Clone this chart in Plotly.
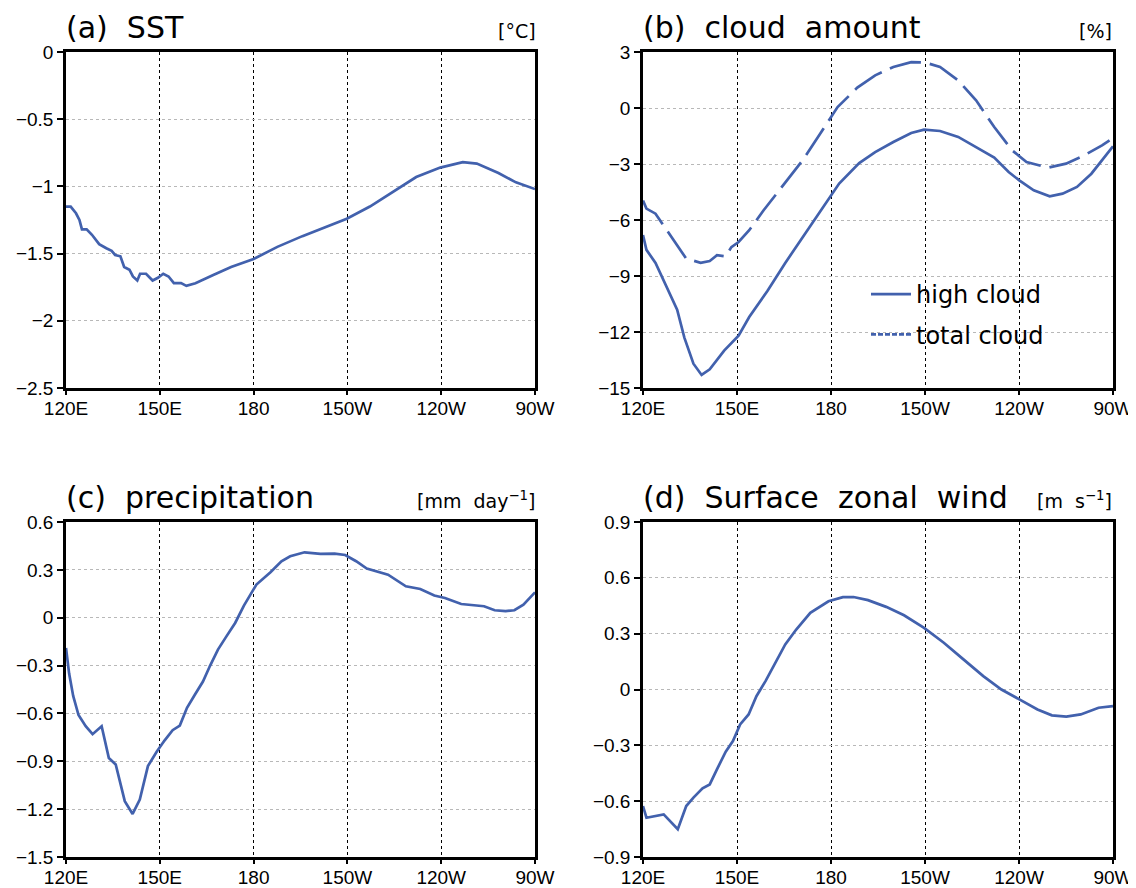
import plotly.graph_objects as go

# ---------------- data (longitude in degrees east, 120E..270E=90W) ----------------
sst_lon = [120, 121.5, 123.2, 124.3, 125.1, 126.6, 128.3, 130.6, 132.9, 134.6, 135.7, 137.4,
           138.6, 140.3, 141.4, 142.8, 143.7, 145.6, 147.7, 149.4, 151.1, 152.8, 154.5, 156.8,
           158.5, 161.4, 167.1, 172.8, 180, 187.6, 195.6, 202.4, 209.8, 217.2, 224.1, 232.0,
           239.7, 246.9, 251.4, 258.3, 263.9, 270]
sst_val = [-1.15, -1.15, -1.20, -1.25, -1.32, -1.32, -1.36, -1.43, -1.46, -1.48, -1.51, -1.52,
           -1.60, -1.62, -1.67, -1.70, -1.65, -1.65, -1.70, -1.68, -1.65, -1.67, -1.72, -1.72,
           -1.74, -1.72, -1.66, -1.60, -1.54, -1.45, -1.37, -1.31, -1.24, -1.15, -1.05, -0.93,
           -0.86, -0.82, -0.83, -0.90, -0.97, -1.02]

high_lon = [120, 121.1, 124.0, 127.5, 130.9, 133.2, 136.1, 138.7, 141.3, 145.9, 150.5, 153.9,
            159.7, 165.4, 171.1, 176.9, 182.6, 189.0, 194.1, 199.9, 205.6, 209.7, 214.8, 220.6,
            226.3, 232.1, 236.7, 240.1, 244.7, 249.8, 253.9, 258.5, 263.1, 267.7, 270]
high_val = [-6.8, -7.6, -8.3, -9.6, -10.8, -12.3, -13.7, -14.3, -14.0, -13.0, -12.2, -11.2,
            -9.8, -8.3, -6.9, -5.5, -4.05, -2.95, -2.36, -1.82, -1.34, -1.16, -1.23, -1.55,
            -2.09, -2.66, -3.43, -3.88, -4.41, -4.73, -4.59, -4.23, -3.52, -2.54, -2.05]

total_lon = [120, 121.1, 124.0, 126.3, 129.8, 133.8, 138.4, 141.3, 143.6, 146.4, 148.2, 150.5,
             153.9, 158.5, 165.4, 171.1, 176.9, 182.1, 188.4, 194.1, 199.9, 205.6, 210.2, 214.8,
             220.6, 226.3, 232.1, 237.8, 242.4, 249.3, 255.0, 260.8, 266.5, 268.9]
total_val = [-4.95, -5.39, -5.66, -6.2, -7.09, -8.07, -8.29, -8.20, -7.89, -7.95, -7.45, -7.18,
             -6.55, -5.48, -3.96, -2.77, -1.29, 0.05, 1.09, 1.75, 2.20, 2.46, 2.43, 2.20,
             1.48, 0.41, -1.02, -2.27, -2.89, -3.20, -2.98, -2.54, -2.0, -1.73]

pr_lon = [120, 121.0, 122.3, 124.0, 126.3, 128.5, 131.4, 133.7, 135.9, 138.8, 141.3, 143.6,
          146.2, 149.0, 151.5, 154.1, 156.4, 158.7, 161.3, 163.8, 166.1, 168.6, 171.2, 174.1,
          176.9, 180.9, 185.4, 188.9, 191.7, 196.3, 201.4, 205.9, 209.3, 212.8, 216.2, 219.0,
          223.0, 228.7, 233.3, 237.8, 241.2, 246.4, 250.9, 253.7, 257.1, 260.6, 263.4, 266.3, 270]
pr_val = [-0.19, -0.35, -0.49, -0.61, -0.68, -0.73, -0.68, -0.88, -0.92, -1.15, -1.23, -1.14,
          -0.93, -0.84, -0.77, -0.705, -0.676, -0.565, -0.48, -0.40, -0.30, -0.20, -0.12, -0.033,
          0.076, 0.208, 0.285, 0.354, 0.385, 0.41, 0.40, 0.402, 0.393, 0.354, 0.308, 0.291,
          0.27, 0.197, 0.18, 0.139, 0.124, 0.086, 0.078, 0.072, 0.047, 0.041, 0.047, 0.082, 0.159]

wind_lon = [120, 121.1, 126.6, 131.1, 133.8, 136.1, 139.0, 141.3, 143.6, 146.4, 148.7, 151.0,
            153.7, 156.2, 159.1, 162.0, 165.4, 168.9, 173.4, 179.2, 183.8, 187.2, 191.8, 197.6,
            203.3, 209.7, 216.0, 221.7, 228.6, 234.4, 240.1, 245.9, 250.5, 255.1, 259.7, 265.4, 270]
wind_val = [-0.626, -0.689, -0.671, -0.751, -0.626, -0.581, -0.531, -0.51, -0.429, -0.334, -0.277,
            -0.188, -0.134, -0.036, 0.045, 0.134, 0.242, 0.322, 0.412, 0.474, 0.496, 0.497, 0.480,
            0.444, 0.399, 0.331, 0.251, 0.170, 0.072, 0.0, -0.053, -0.107, -0.139, -0.146, -0.134,
            -0.098, -0.089]

x_tickvals = [120, 150, 180, 210, 240, 270]
x_ticktext = ["120E", "150E", "180", "150W", "120W", "90W"]

y_ticks_a = [0, -0.5, -1, -1.5, -2, -2.5]
y_ticks_b = [3, 0, -3, -6, -9, -12, -15]
y_ticks_c = [0.6, 0.3, 0, -0.3, -0.6, -0.9, -1.2, -1.5]
y_ticks_d = [0.9, 0.6, 0.3, 0, -0.3, -0.6, -0.9]

titles = ["(a)  SST", "(b)  cloud  amount", "(c)  precipitation", "(d)  Surface  zonal  wind"]
units = ["[°C]", "[%]", "[mm  day<sup>−1</sup>]", "[m  s<sup>−1</sup>]"]

# ---------------- styling ----------------
# the page body has an 8px margin; the figure fills the rest of the 1136x888 window
OFF = 8
W, H = 1136 - OFF, 888 - OFF


def px(xp):
    return (xp - OFF) / W


def py(yp):
    return 1 - (yp - OFF) / H


LINE = "#4261ad"
TICKFONT = dict(family="Liberation Sans, Arial, sans-serif", size=19, color="black")
TITLEFONT = dict(family="DejaVu Sans, sans-serif", size=30, color="black")
UNITFONT = dict(family="DejaVu Sans, sans-serif", size=19, color="black")

xdom_l = [px(66), px(535)]
xdom_r = [px(643), px(1113)]
ydom_t = [py(388), py(52)]
ydom_b = [py(857), py(522)]

fig = go.Figure()

fig.add_trace(go.Scatter(x=sst_lon, y=sst_val, mode="lines", line=dict(color=LINE, width=2.7),
                         xaxis="x", yaxis="y", showlegend=False))
fig.add_trace(go.Scatter(x=high_lon, y=high_val, mode="lines", name="high cloud",
                         line=dict(color=LINE, width=2.7), xaxis="x2", yaxis="y2",
                         legendgroup="g1"))
fig.add_trace(go.Scatter(x=total_lon, y=total_val, mode="lines", name="total cloud",
                         line=dict(color=LINE, width=2.7, dash="32px,9px"), xaxis="x2", yaxis="y2",
                         showlegend=False, legendgroup="g2"))
# legend-only entry showing the short-dash key, as in the reference legend
fig.add_trace(go.Scatter(x=[None], y=[None], mode="lines", name="total cloud",
                         line=dict(color=LINE, width=2.7, dash="5px,2px"), xaxis="x2", yaxis="y2",
                         legendgroup="g2"))
fig.add_trace(go.Scatter(x=pr_lon, y=pr_val, mode="lines", line=dict(color=LINE, width=2.7),
                         xaxis="x3", yaxis="y3", showlegend=False))
fig.add_trace(go.Scatter(x=wind_lon, y=wind_val, mode="lines", line=dict(color=LINE, width=2.7),
                         xaxis="x4", yaxis="y4", showlegend=False))


def xax(dom, anchor):
    return dict(domain=dom, anchor=anchor, range=[120, 270], tickvals=x_tickvals,
                ticktext=x_ticktext, tickfont=TICKFONT, showgrid=True, gridcolor="black",
                griddash="dot", gridwidth=1, showline=True, linecolor="black", linewidth=2.5,
                mirror=True, ticks="outside", ticklen=4, tickwidth=2, tickcolor="black",
                zeroline=False, automargin=False, ticklabelstandoff=-3)


def yax(dom, anchor, rng, tv):
    return dict(domain=dom, anchor=anchor, range=rng, tickvals=tv, tickfont=TICKFONT,
                showgrid=True, gridcolor="#b8b8b8", griddash="dot", gridwidth=1,
                showline=True, linecolor="black", linewidth=2.5, mirror=True,
                ticks="outside", ticklen=6, tickwidth=2, tickcolor="black", zeroline=False,
                automargin=False)


fig.update_layout(
    width=W, height=H,
    margin=dict(l=0, r=0, t=0, b=0),
    paper_bgcolor="white", plot_bgcolor="white",
    xaxis=xax(xdom_l, "y"), yaxis=yax(ydom_t, "x", [-2.5, 0], y_ticks_a),
    xaxis2=xax(xdom_r, "y2"), yaxis2=yax(ydom_t, "x2", [-15, 3], y_ticks_b),
    xaxis3=xax(xdom_l, "y3"), yaxis3=yax(ydom_b, "x3", [-1.5, 0.6], y_ticks_c),
    xaxis4=xax(xdom_r, "y4"), yaxis4=yax(ydom_b, "x4", [-0.9, 0.9], y_ticks_d),
    legend=dict(x=px(866), y=py(272), xanchor="left", yanchor="top",
                bgcolor="rgba(0,0,0,0)", font=dict(family="DejaVu Sans, sans-serif", size=24,
                                                   color="black"),
                traceorder="grouped", tracegroupgap=6, itemwidth=40),
    showlegend=True,
)

title_pos = [(px(64), py(27)), (px(641), py(27)), (px(64), py(497)), (px(641), py(497))]
unit_pos = [(px(538), py(31)), (px(1114), py(31)), (px(538), py(500)), (px(1114), py(500))]
for t, (x, y) in zip(titles, title_pos):
    fig.add_annotation(text=t, x=x, y=y, xref="paper", yref="paper", xanchor="left",
                       yanchor="middle", showarrow=False, font=TITLEFONT)
for u, (x, y) in zip(units, unit_pos):
    fig.add_annotation(text=u, x=x, y=y, xref="paper", yref="paper", xanchor="right",
                       yanchor="middle", showarrow=False, font=UNITFONT)

fig.write_html("out.html")
